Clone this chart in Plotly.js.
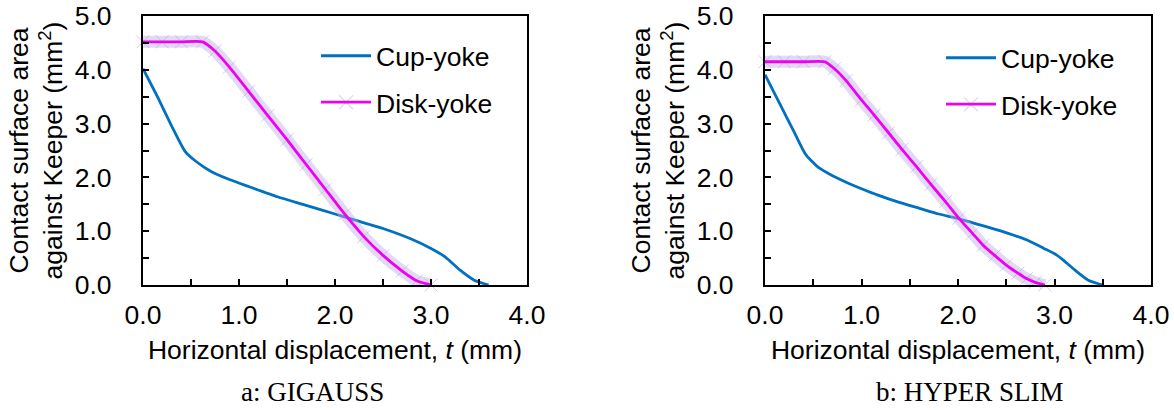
<!DOCTYPE html>
<html>
<head>
<meta charset="utf-8">
<script src="https://cdn.plot.ly/plotly-3.0.1.min.js"></script>
<style>
html,body{margin:0;padding:0;background:#fff;}
#chart{width:1174px;height:410px;}
</style>
</head>
<body>
<div id="chart"></div>
<script>
// ---- Data ----
// a: GIGAUSS
const gigaCupT  = [0, 0.15, 0.30, 0.44, 0.55, 0.70, 0.90, 1.10, 1.40, 1.70, 2.00, 2.20, 2.50, 2.80, 3.00, 3.15, 3.30, 3.45, 3.60];
const gigaCupA  = [4.02, 3.50, 2.95, 2.48, 2.30, 2.12, 1.96, 1.83, 1.64, 1.48, 1.32, 1.21, 1.05, 0.85, 0.68, 0.52, 0.28, 0.09, 0.00];
const gigaDiskT = [0, 0.20, 0.40, 0.62, 0.75, 0.90, 1.10, 1.30, 1.50, 1.70, 1.90, 2.10, 2.30, 2.50, 2.70, 2.85, 3.00];
const gigaDiskA = [4.52, 4.52, 4.52, 4.52, 4.35, 4.05, 3.60, 3.15, 2.70, 2.24, 1.78, 1.32, 0.90, 0.55, 0.26, 0.08, 0.00];
// b: HYPER SLIM
const hyperCupT  = [0, 0.15, 0.30, 0.42, 0.55, 0.70, 0.84, 1.00, 1.17, 1.40, 1.61, 1.80, 2.01, 2.30, 2.52, 2.71, 2.89, 3.02, 3.10, 3.21, 3.35, 3.50];
const hyperCupA  = [3.91, 3.38, 2.85, 2.43, 2.19, 2.03, 1.91, 1.79, 1.67, 1.53, 1.42, 1.32, 1.23, 1.08, 0.96, 0.84, 0.68, 0.56, 0.45, 0.28, 0.09, 0.00];
const hyperDiskT = [0, 0.20, 0.40, 0.62, 0.72, 0.84, 1.00, 1.13, 1.28, 1.42, 1.57, 1.72, 1.87, 2.01, 2.15, 2.26, 2.38, 2.50, 2.62, 2.71, 2.80, 2.90];
const hyperDiskA = [4.15, 4.15, 4.15, 4.15, 4.02, 3.80, 3.44, 3.16, 2.83, 2.52, 2.20, 1.87, 1.55, 1.24, 0.96, 0.74, 0.55, 0.37, 0.22, 0.12, 0.05, 0.00];

const seriesNames = ['Cup-yoke', 'Disk-yoke'];
const xTitle = 'Horizontal displacement, <i>t</i> (mm)';
const yTitle = 'Contact surface area<br>against Keeper (mm<sup>2</sup>)';
const captions = ['a: GIGAUSS', 'b: HYPER SLIM'];

// ---- Styles ----
const W = 1174, H = 410;
const FONT = 'Liberation Sans, Arial, sans-serif';
const SERIF = 'Liberation Serif, Times New Roman, serif';
const FS = 26.5;
const BLUE = '#0070C0';
const MAGENTA = '#F000F0';
const BAND = 'rgba(190,172,232,0.45)';
const XMARK = 'rgb(120,80,205)';

function px(v, total) { return v / total; }

function panelTraces(cupT, cupA, diskT, diskA, xa, ya, lg) {
  return [
    { x: cupT, y: cupA, xaxis: xa, yaxis: ya, type: 'scatter', mode: 'lines',
      name: seriesNames[0], legend: lg, legendgroup: lg + 'c',
      line: { color: BLUE, width: 2.8, shape: 'spline', smoothing: 0.6 } },
    { x: diskT, y: diskA, xaxis: xa, yaxis: ya, type: 'scatter', mode: 'lines+markers',
      showlegend: false, hoverinfo: 'skip', cliponaxis: false,
      line: { color: BAND, width: 12, shape: 'spline', smoothing: 0.6 },
      marker: { symbol: 'x-thin', size: 13, color: 'rgba(170,150,225,0.5)',
                line: { width: 1, color: 'rgba(170,150,225,0.5)' } } },
    { x: diskT, y: diskA, xaxis: xa, yaxis: ya, type: 'scatter', mode: 'lines+markers',
      name: seriesNames[1], legend: lg, legendgroup: lg + 'd',
      line: { color: MAGENTA, width: 2.8, shape: 'spline', smoothing: 0.6 },
      marker: { symbol: 'x-thin', size: 14, color: XMARK,
                line: { width: 1.5, color: XMARK },
                opacity: diskT.map(() => 0) } }
  ];
}

const data = [].concat(
  panelTraces(gigaCupT, gigaCupA, gigaDiskT, gigaDiskA, 'x', 'y', 'legend'),
  panelTraces(hyperCupT, hyperCupA, hyperDiskT, hyperDiskA, 'x2', 'y2', 'legend2')
);

function xAxis(d0, d1, anchor) {
  return {
    domain: [px(d0, W), px(d1, W)], anchor: anchor, range: [0, 4],
    showline: true, mirror: true, linecolor: '#000', linewidth: 2.2,
    ticks: 'inside', ticklen: 6, tickwidth: 2, tickcolor: '#000',
    tick0: 0, dtick: 1, tickformat: '.1f',
    minor: { dtick: 0.5, ticks: 'inside', ticklen: 6, tickwidth: 2, tickcolor: '#000', showgrid: false },
    showgrid: false, zeroline: false, fixedrange: true,
    tickfont: { family: FONT, size: FS, color: '#000' },
    ticklabelstandoff: 5,
    title: { text: xTitle, font: { family: FONT, size: FS, color: '#000' }, standoff: 12 },
    automargin: false
  };
}
function yAxis(anchor) {
  return {
    domain: [(H - 285) / H, (H - 16) / H], anchor: anchor, range: [0, 5],
    showline: true, mirror: true, linecolor: '#000', linewidth: 2.2,
    ticks: 'inside', ticklen: 6, tickwidth: 2, tickcolor: '#000',
    tick0: 0, dtick: 1, tickformat: '.1f',
    minor: { dtick: 0.5, ticks: 'inside', ticklen: 6, tickwidth: 2, tickcolor: '#000', showgrid: false },
    showgrid: false, zeroline: false, fixedrange: true,
    tickfont: { family: FONT, size: FS, color: '#000' },
    ticklabelstandoff: 24,
    title: { text: yTitle, font: { family: FONT, size: FS, color: '#000' }, standoff: 4 },
    automargin: false
  };
}

function legendAt(xPix, yPix) {
  return {
    x: px(xPix, W), y: (H - yPix) / H, xanchor: 'left', yanchor: 'top',
    bgcolor: 'rgba(0,0,0,0)', borderwidth: 0,
    font: { family: FONT, size: FS, color: '#000' },
    traceorder: 'grouped', tracegroupgap: 9, itemwidth: 50
  };
}

const layout = {
  width: W, height: H,
  margin: { l: 0, r: 0, t: 0, b: 0 },
  paper_bgcolor: '#fff', plot_bgcolor: '#fff',
  showlegend: true,
  xaxis: xAxis(143, 527, 'y'),
  yaxis: yAxis('x'),
  xaxis2: xAxis(765, 1151, 'y2'),
  yaxis2: yAxis('x2'),
  legend: legendAt(316, 32),
  legend2: legendAt(941, 34),
  annotations: [
    { text: captions[0], xref: 'paper', yref: 'paper', x: px(312, W), y: (H - 392) / H,
      xanchor: 'center', yanchor: 'middle', showarrow: false,
      font: { family: SERIF, size: 27, color: '#000' } },
    { text: captions[1], xref: 'paper', yref: 'paper', x: px(970, W), y: (H - 392) / H,
      xanchor: 'center', yanchor: 'middle', showarrow: false,
      font: { family: SERIF, size: 27, color: '#000' } }
  ]
};

Plotly.newPlot('chart', data, layout, { displayModeBar: false, staticPlot: true });
</script>
</body>
</html>
